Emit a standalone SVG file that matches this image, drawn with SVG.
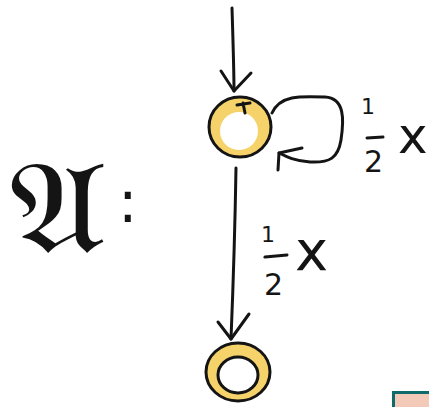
<svg xmlns="http://www.w3.org/2000/svg" width="429" height="407" viewBox="0 0 429 407">
<style>
.ink{fill:none;stroke:#141414;stroke-width:3;stroke-linecap:round;stroke-linejoin:round}
.lbl{font-family:"DejaVu Sans","Liberation Sans",sans-serif;fill:#141414}
.ring{fill:#f6d36a;stroke:#141414;stroke-width:3}
</style>
<rect width="429" height="407" fill="#ffffff"/>
<g id="title">
<text class="lbl" x="0" y="0" font-size="128" transform="translate(9,252) scale(1.15,1)">𝔄</text>
<text class="lbl" x="118" y="222" font-size="58">:</text>
</g>
<g id="connectors">
<path class="ink" d="M232,8 C233,40 234,70 234,91"/>
<path class="ink" d="M221,71 L234,91 L251,73"/>
<path class="ink" d="M272,113 C280,95 300,96 325,97 C345,98 344,120 341,140 C338,158 330,163 310,162 C295,161 287,157 279,153"/>
<path class="ink" d="M302,148 L279,153 L278,170"/>
<path class="ink" d="M236,168 C235,230 233,290 231,339"/>
<path class="ink" d="M218,322 L231,339 L249,314"/>
</g>
<g id="state-top">
<ellipse class="ring" cx="240" cy="127" rx="31" ry="30"/>
<ellipse cx="239" cy="131" rx="19" ry="19" fill="#ffffff"/>
<path class="ink" d="M243,103 L245,113 M237,105 L250,103"/>
</g>
<g id="state-bottom">
<ellipse class="ring" cx="238" cy="372" rx="32" ry="29"/>
<ellipse cx="238" cy="375" rx="20" ry="18" fill="#ffffff" stroke="#141414" stroke-width="3"/>
</g>
<g id="label-loop">
<text class="lbl" x="361" y="114" font-size="22">1</text>
<line class="ink" x1="367" y1="138" x2="383" y2="137"/>
<text class="lbl" x="364" y="172" font-size="30">2</text>
<text class="lbl" x="398" y="153" font-size="50">x</text>
</g>
<g id="label-down">
<text class="lbl" x="261" y="242" font-size="22">1</text>
<line class="ink" x1="265" y1="257" x2="287" y2="255"/>
<text class="lbl" x="264" y="295" font-size="30">2</text>
<text class="lbl" x="295" y="270" font-size="56">x</text>
</g>
<rect x="393.5" y="392.5" width="40" height="20" fill="#f3cab8" stroke="#0e6b6b" stroke-width="3"/>
</svg>
